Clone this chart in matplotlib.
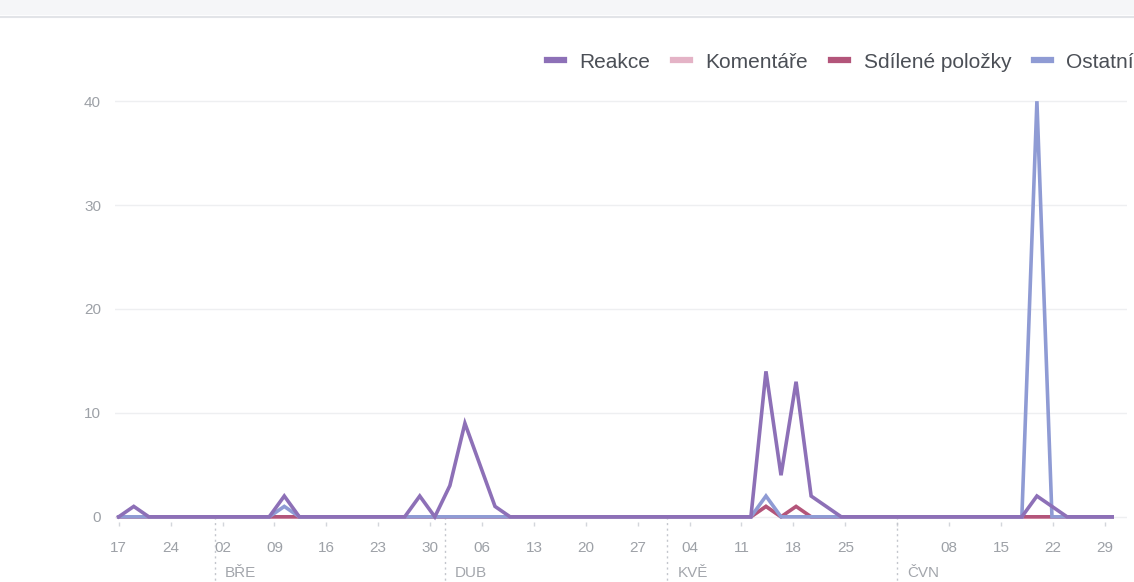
import matplotlib
matplotlib.use("Agg")
import matplotlib.pyplot as plt
import matplotlib.dates as mdates
import matplotlib.transforms as mtransforms
from matplotlib.lines import Line2D
from matplotlib.patches import Rectangle
import pandas as pd

plt.rcParams["font.family"] = ["Liberation Sans", "DejaVu Sans"]

# 67 samples spread over 17 Feb - 30 Jun 2020
dates = pd.date_range("2020-02-17", "2020-06-30", periods=67)

reakce = [0, 1, 0, 0, 0, 0, 0, 0, 0, 0,
          0, 2, 0, 0, 0, 0, 0, 0, 0, 0,
          2, 0, 3, 9, 5, 1, 0, 0, 0, 0,
          0, 0, 0, 0, 0, 0, 0, 0, 0, 0,
          0, 0, 0, 14, 4, 13, 2, 1, 0, 0,
          0, 0, 0, 0, 0, 0, 0, 0, 0, 0,
          0, 2, 1, 0, 0, 0, 0]
komentare = [0] * 43 + [1] + [0] * 23
sdilene = [0] * 43 + [1, 0, 1] + [0] * 21
ostatni = ([0] * 11 + [1] + [0] * 31 + [2] + [0] * 17 + [40] + [0] * 5)

series_names = ["Reakce", "Komentáře", "Sdílené položky", "Ostatní"]
series_colors = ["#8d70b7", "#e4b3c6", "#b3557a", "#8f9bd4"]

month_starts = pd.to_datetime(["2020-03-01", "2020-04-01", "2020-05-01", "2020-06-01"])
month_labels = ["BŘE", "DUB", "KVĚ", "ČVN"]
y_ticks = [0, 10, 20, 30, 40]

W, H = 1134, 582
fig = plt.figure(figsize=(W / 100, H / 100), dpi=100)

# page header strip
fig.patches.append(Rectangle((0, 1 - 15 / H), 1, 15 / H, transform=fig.transFigure,
                             facecolor="#f5f6f8", edgecolor="none", zorder=0))
fig.lines.append(Line2D([0, 1], [1 - 16.5 / H] * 2, transform=fig.transFigure,
                        color="#e2e4e8", lw=1.5))

ax = fig.add_axes([115 / W, (H - 522) / H, 1012 / W, 426 / H])

data = [reakce, komentare, sdilene, ostatni]
order = [1, 2, 3, 0]
for k in order:
    ax.plot(dates, data[k], color=series_colors[k], lw=2.6, solid_joinstyle="miter",
            zorder=3 + order.index(k))

ax.set_xlim(dates[0] - pd.Timedelta(hours=12), dates[0] + pd.Timedelta(days=136))
ax.set_ylim(-0.5, 40.5)

ax.set_yticks(y_ticks)
ax.yaxis.grid(True, color="#eeeff1", lw=1)
ax.set_axisbelow(True)
for sp in ax.spines.values():
    sp.set_visible(False)

ax.xaxis.set_major_locator(mdates.WeekdayLocator(byweekday=mdates.MO))
ax.xaxis.set_major_formatter(plt.FuncFormatter(
    lambda v, p: "" if mdates.num2date(v).day == 1 else mdates.num2date(v).strftime("%d")))
ax.tick_params(axis="x", length=3, width=1, color="#d3d6db", pad=11,
               labelsize=11, labelcolor="#9da1a7")
ax.tick_params(axis="y", length=0, pad=10, labelsize=11, labelcolor="#9da1a7")

trans = mtransforms.blended_transform_factory(ax.transData, ax.transAxes)
for d, lab in zip(month_starts, month_labels):
    dn = mdates.date2num(d)
    ax.plot([dn, dn], [0.012, -0.145], transform=trans, clip_on=False,
            color="#c3c6cc", lw=1, ls=(0, (1.5, 2.5)))
    ax.annotate(lab, xy=(dn, 0), xycoords=trans, xytext=(10, -51),
                textcoords="offset pixels", va="center", ha="left",
                fontsize=11, color="#a3a6ac")

handles = [Line2D([], [], color=c, lw=4.5) for c in series_colors]
fig.legend(handles, series_names, loc="center right",
           bbox_to_anchor=(1.0, 1 - 62 / H), ncol=4, frameon=False,
           fontsize=15, labelcolor="#4b4f56", handlelength=0.8,
           handletextpad=0.75, columnspacing=1.1, borderaxespad=0, borderpad=0)

fig.savefig("out.png", dpi=100, facecolor="white")
